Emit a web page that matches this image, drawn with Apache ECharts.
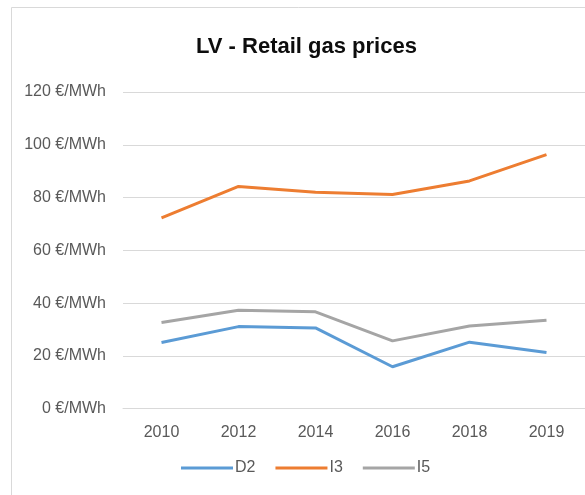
<!DOCTYPE html>
<html>
<head>
<meta charset="utf-8">
<script src="https://cdn.jsdelivr.net/npm/echarts@6/dist/echarts.min.js"></script>
<style>
html,body{margin:0;padding:0;background:#fff;}
#chart{width:585px;height:495px;}
</style>
</head>
<body>
<div id="chart"></div>
<script>
const titleText = "LV - Retail gas prices";
const years = ["2010", "2012", "2014", "2016", "2018", "2019"];
const seriesNames = ["D2", "I3", "I5"];
const d2 = [25.1, 31.1, 30.6, 15.9, 25.2, 21.3];
const i3 = [72.3, 84.2, 82.0, 81.2, 86.3, 96.3];
const i5 = [32.7, 37.3, 36.7, 25.7, 31.3, 33.5];
const colors = ["#5B9BD5", "#ED7D31", "#A5A5A5"];
const yMin = 0, yMax = 120, yStep = 20;
const unit = " €/MWh";

const chart = echarts.init(document.getElementById('chart'), null, {renderer: 'canvas'});
const font = "'Liberation Sans', Arial, sans-serif";
const values = [d2, i3, i5];
chart.setOption({
  animation: false,
  backgroundColor: '#fff',
  graphic: [{
    type: 'rect', silent: true,
    shape: {x: 11.5, y: 7.5, width: 620, height: 520},
    style: {fill: 'none', stroke: '#d9d9d9', lineWidth: 1}
  }],
  title: {
    text: titleText, left: 191, top: 31,
    textStyle: {fontFamily: font, fontSize: 22, fontWeight: 'bold', color: '#0d0d0d'}
  },
  legend: {
    data: seriesNames.map((n) => ({name: n, icon: 'rect'})),
    left: 176, top: 455,
    itemWidth: 52, itemHeight: 3, itemGap: 20,
    textStyle: {fontFamily: font, fontSize: 16, color: '#595959', padding: [0,0,0,-3]}
  },
  grid: {left: 123, right: -6, top: 92, bottom: 86.3, containLabel: false},
  xAxis: {
    type: 'category', data: years, boundaryGap: true,
    axisLine: {show: true, lineStyle: {color: '#d9d9d9', width: 1}},
    axisTick: {show: false},
    axisLabel: {margin: 16, fontFamily: font, fontSize: 16, color: '#595959'}
  },
  yAxis: {
    type: 'value', min: yMin, max: yMax, interval: yStep,
    axisLine: {show: false}, axisTick: {show: false},
    splitLine: {lineStyle: {color: '#d9d9d9', width: 1}},
    axisLabel: {margin: 17, fontFamily: font, fontSize: 16, color: '#595959',
      formatter: (v) => v + unit}
  },
  series: seriesNames.map((n, k) => ({
    name: n, type: 'line', data: values[k], showSymbol: false, symbol: 'none',
    lineStyle: {color: colors[k], width: 3}, itemStyle: {color: colors[k]}
  }))
});
</script>
</body>
</html>
